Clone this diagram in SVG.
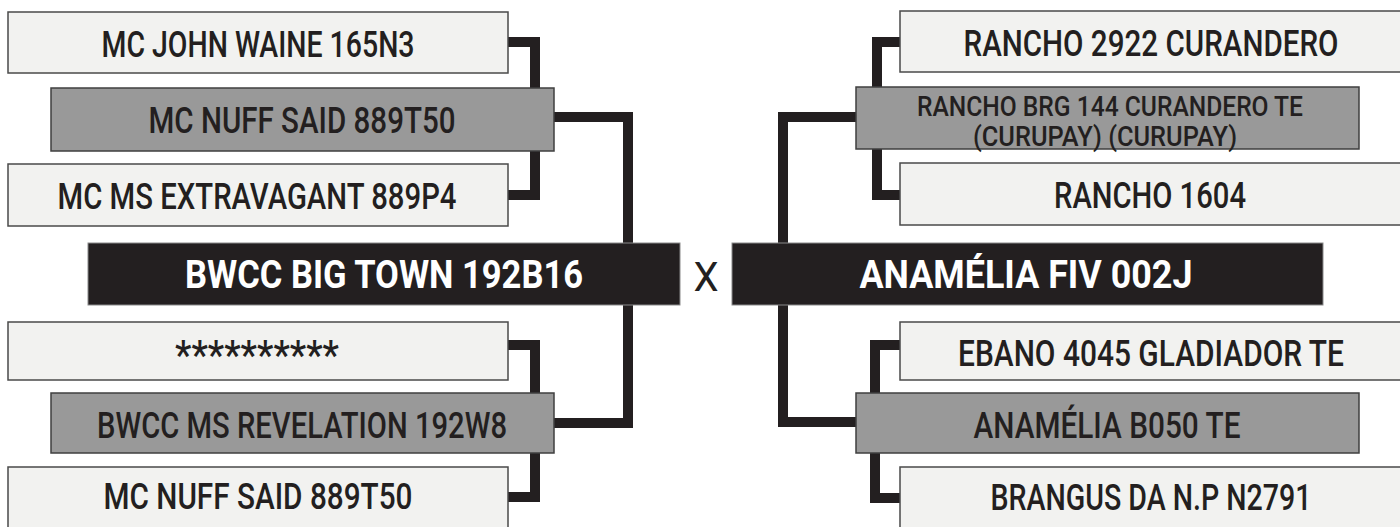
<svg xmlns="http://www.w3.org/2000/svg" width="1400" height="527" viewBox="0 0 1400 527">
<style>
.wb{fill:#f2f2f0;stroke:#4a4a4a;stroke-width:1.5}
.gb{fill:#999999;stroke:#3f3f3f;stroke-width:1.5}
.bb{fill:#231f20;stroke:#8a8a8a;stroke-width:1}
.t{font-family:Roboto,"Liberation Sans",sans-serif;font-size:37px;font-weight:500;fill:#231f20;text-anchor:middle}
.ts{font-family:Roboto,"Liberation Sans",sans-serif;font-size:28px;font-weight:500;fill:#231f20;text-anchor:middle}
.tb{font-family:Roboto,"Liberation Sans",sans-serif;font-size:38px;font-weight:700;fill:#ffffff;text-anchor:middle}
.c{fill:none;stroke:#231f20;stroke-width:10;stroke-linejoin:miter;stroke-linecap:butt}
</style>
<rect width="1400" height="527" fill="#ffffff"/>
<g id="connectors">
<path class="c" d="M500,42 H535 V92"/>
<path class="c" d="M535,148 V195 H500"/>
<path class="c" d="M550,117 H628 V246"/>
<path class="c" d="M628,302 V423 H550"/>
<path class="c" d="M500,345 H535 V396"/>
<path class="c" d="M535,450 V497 H500"/>
<path class="c" d="M905,42 H877 V92"/>
<path class="c" d="M877,146 V195 H905"/>
<path class="c" d="M860,117 H783 V246"/>
<path class="c" d="M783,302 V422 H860"/>
<path class="c" d="M905,345 H875 V396"/>
<path class="c" d="M875,450 V498 H905"/>
</g>
<g id="n1"><rect class="wb" x="8" y="12" width="500" height="61"/><text class="t" x="258" y="57" textLength="313" lengthAdjust="spacingAndGlyphs">MC JOHN WAINE 165N3</text></g>
<g id="n2"><rect class="gb" x="51" y="88" width="503" height="63"/><text class="t" x="302" y="133" textLength="307" lengthAdjust="spacingAndGlyphs">MC NUFF SAID 889T50</text></g>
<g id="n3"><rect class="wb" x="8" y="164" width="500" height="62"/><text class="t" x="257" y="209" textLength="399" lengthAdjust="spacingAndGlyphs">MC MS EXTRAVAGANT 889P4</text></g>
<g id="n4"><rect class="bb" x="88" y="243" width="592" height="62"/><text class="tb" x="384" y="288" textLength="398" lengthAdjust="spacingAndGlyphs">BWCC BIG TOWN 192B16</text></g>
<g id="n5"><rect class="wb" x="8" y="322" width="500" height="58"/><text class="t" x="257" y="369" textLength="164" lengthAdjust="spacingAndGlyphs" style="font-size:40px">**********</text></g>
<g id="n6"><rect class="gb" x="51" y="393" width="503" height="60"/><text class="t" x="302" y="438" textLength="410" lengthAdjust="spacingAndGlyphs">BWCC MS REVELATION 192W8</text></g>
<g id="n7"><rect class="wb" x="8" y="467" width="500" height="61"/><text class="t" x="258" y="509" textLength="309" lengthAdjust="spacingAndGlyphs">MC NUFF SAID 889T50</text></g>
<g id="x"><text class="t" x="706" y="291" style="font-size:40px;font-weight:400">X</text></g>
<g id="m1"><rect class="wb" x="900" y="11" width="501" height="61"/><text class="t" x="1151" y="56" textLength="375" lengthAdjust="spacingAndGlyphs">RANCHO 2922 CURANDERO</text></g>
<g id="m2"><rect class="gb" x="856" y="87" width="503" height="62"/><text class="ts" x="1110" y="116" textLength="386" lengthAdjust="spacingAndGlyphs">RANCHO BRG 144 CURANDERO TE</text><text class="ts" x="1105" y="146" textLength="264" lengthAdjust="spacingAndGlyphs">(CURUPAY) (CURUPAY)</text></g>
<g id="m3"><rect class="wb" x="900" y="163" width="501" height="62"/><text class="t" x="1150" y="208" textLength="192" lengthAdjust="spacingAndGlyphs">RANCHO 1604</text></g>
<g id="m4"><rect class="bb" x="732" y="243" width="591" height="62"/><text class="tb" x="1026" y="288" textLength="333" lengthAdjust="spacingAndGlyphs">ANAMÉLIA FIV 002J</text></g>
<g id="m5"><rect class="wb" x="900" y="322" width="501" height="58"/><text class="t" x="1151" y="366" textLength="386" lengthAdjust="spacingAndGlyphs">EBANO 4045 GLADIADOR TE</text></g>
<g id="m6"><rect class="gb" x="856" y="393" width="503" height="60"/><text class="t" x="1107" y="438" textLength="267" lengthAdjust="spacingAndGlyphs">ANAMÉLIA B050 TE</text></g>
<g id="m7"><rect class="wb" x="900" y="467" width="501" height="61"/><text class="t" x="1151" y="510" textLength="321" lengthAdjust="spacingAndGlyphs">BRANGUS DA N.P N2791</text></g>
</svg>
